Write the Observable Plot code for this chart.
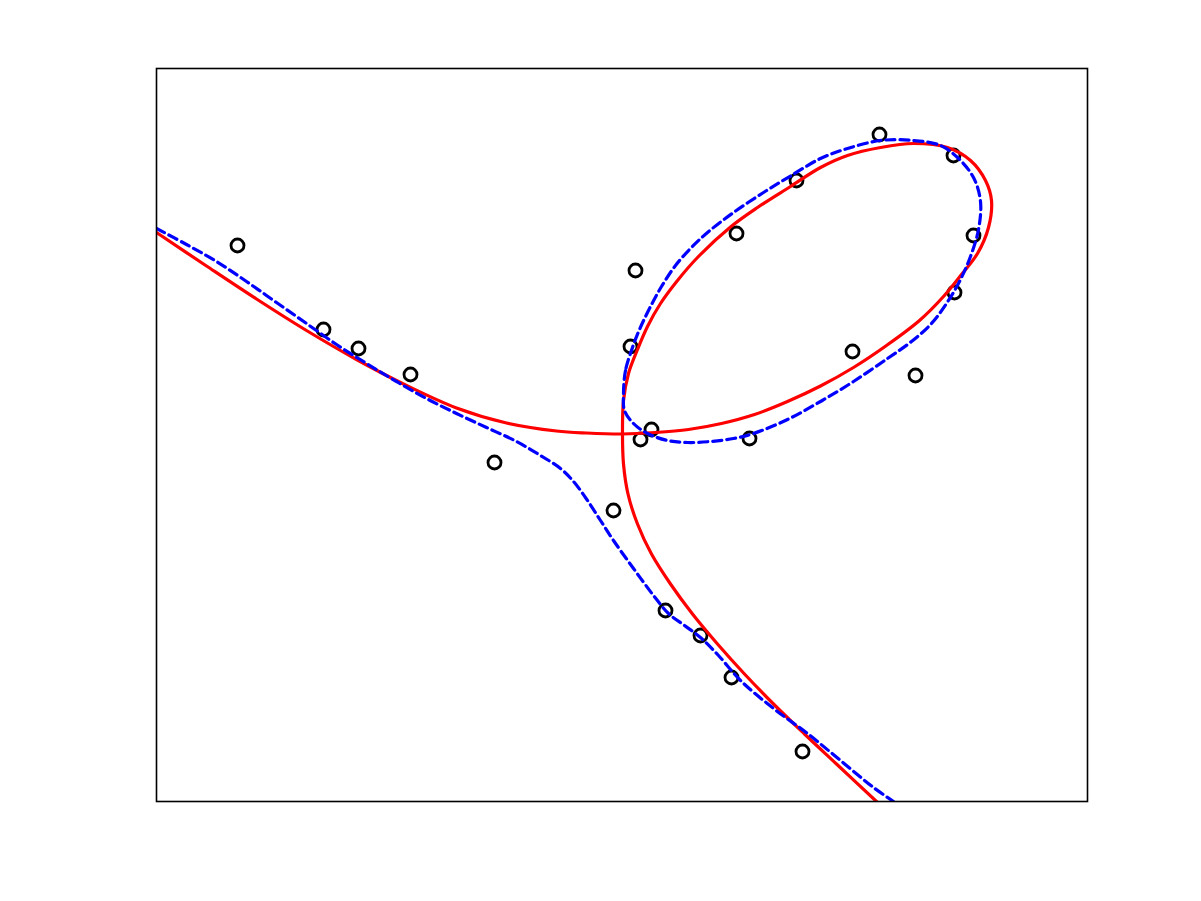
<!DOCTYPE html>
<html>
<head>
<meta charset="utf-8">
<script src="https://cdn.jsdelivr.net/npm/d3@7"></script>
<script src="https://cdn.jsdelivr.net/npm/@observablehq/plot@0.6"></script>
<style>
  html, body { margin: 0; padding: 0; background: #ffffff; }
  #chart { width: 1201px; height: 901px; }
</style>
</head>
<body>
<div id="chart"></div>
<script>
// Sample points (circles)
const pointX = [0.81, 1.67, 2.02, 2.54, 3.38, 4.57, 4.79, 4.74, 4.95, 4.84, 5.09, 5.44, 5.75, 6.46, 5.80, 6.40, 7.23, 7.97, 8.17, 7.98, 6.96, 7.59, 5.93];
const pointY = [5.56, 4.72, 4.53, 4.27, 3.39, 2.91, 5.31, 4.55, 3.72, 3.62, 1.91, 1.66, 1.24, 0.50, 5.68, 6.21, 6.67, 6.46, 5.66, 5.09, 4.50, 4.26, 3.63];

// Red solid curve (single self-crossing curve)
const redX = [0.00, 0.50, 1.00, 1.50, 2.00, 2.50, 3.00, 3.50, 4.00, 4.30, 4.66, 4.99, 5.32, 5.65, 5.98, 6.31, 6.64, 6.97, 7.30, 7.63, 7.87, 8.05, 8.21, 8.32, 8.35, 8.29, 8.14, 7.91, 7.57, 7.24, 6.91, 6.64, 6.34, 6.01, 5.74, 5.41, 5.21, 5.04, 4.91, 4.81, 4.72, 4.67, 4.66, 4.67, 4.715, 4.81, 4.95, 5.14, 5.36, 5.61, 5.88, 6.17, 6.48, 6.80, 7.20];
const redY = [5.69, 5.355, 5.025, 4.71, 4.42, 4.16, 3.935, 3.785, 3.705, 3.685, 3.675, 3.69, 3.72, 3.78, 3.87, 4.00, 4.155, 4.34, 4.56, 4.81, 5.05, 5.27, 5.48, 5.74, 6.01, 6.21, 6.41, 6.54, 6.58, 6.54, 6.46, 6.34, 6.15, 5.94, 5.745, 5.44, 5.21, 4.98, 4.75, 4.52, 4.28, 4.01, 3.675, 3.375, 3.075, 2.775, 2.475, 2.175, 1.875, 1.575, 1.275, 0.975, 0.675, 0.375, 0.00];

// Blue dashed curve: open branch
const blueOpenX = [0.00, 0.30, 0.60, 0.90, 1.20, 1.50, 1.80, 2.10, 2.40, 2.70, 3.00, 3.30, 3.60, 3.84, 4.04, 4.17, 4.31, 4.44, 4.57, 4.77, 4.97, 5.12, 5.28, 5.44, 5.62, 5.84, 6.17, 6.51, 6.84, 7.17, 7.37];
const blueOpenY = [5.73, 5.57, 5.40, 5.20, 4.99, 4.78, 4.57, 4.38, 4.20, 4.03, 3.88, 3.74, 3.60, 3.46, 3.33, 3.20, 3.01, 2.81, 2.61, 2.33, 2.06, 1.88, 1.76, 1.64, 1.46, 1.21, 0.93, 0.68, 0.41, 0.14, 0.00];

// Blue dashed curve: closed loop
const blueLoopX = [4.76, 4.69, 4.67, 4.68, 4.77, 4.91, 5.11, 5.31, 5.54, 5.77, 5.97, 6.31, 6.64, 6.97, 7.31, 7.55, 7.75, 7.90, 8.03, 8.14, 8.22, 8.24, 8.17, 8.01, 7.84, 7.57, 7.24, 6.91, 6.64, 6.34, 6.07, 5.77, 5.51, 5.34, 5.19, 5.05, 4.93, 4.83];
const blueLoopY = [4.54, 4.31, 4.08, 3.91, 3.78, 3.68, 3.61, 3.59, 3.60, 3.63, 3.68, 3.82, 4.00, 4.20, 4.43, 4.60, 4.78, 4.98, 5.20, 5.45, 5.72, 6.00, 6.24, 6.44, 6.56, 6.61, 6.61, 6.53, 6.43, 6.255, 6.09, 5.89, 5.69, 5.53, 5.36, 5.15, 4.93, 4.72];

const toRows = (xs, ys) => xs.map((x, i) => ({x, y: ys[i]}));
const points = toRows(pointX, pointY);
const red = toRows(redX, redY);
const blueOpen = toRows(blueOpenX, blueOpenY);
const blueLoop = toRows(blueLoopX, blueLoopY);

const chart = Plot.plot({
  width: 1201,
  height: 901,
  marginLeft: 156,
  marginRight: 114,
  marginTop: 68,
  marginBottom: 100,
  style: {background: "#ffffff"},
  x: {domain: [0, 9.31], axis: null},
  y: {domain: [0, 7.33], axis: null},
  marks: [
    Plot.dot(points, {x: "x", y: "y", r: 6.5, stroke: "#000000", strokeWidth: 2.8, fill: "none"}),
    Plot.line(red, {x: "x", y: "y", stroke: "#ff0000", strokeWidth: 3.2, curve: "catmull-rom", clip: true}),
    Plot.line(blueOpen, {x: "x", y: "y", stroke: "#0000ff", strokeWidth: 3.2, strokeDasharray: "9,5", curve: "catmull-rom", clip: true}),
    Plot.line(blueLoop, {x: "x", y: "y", stroke: "#0000ff", strokeWidth: 3.2, strokeDasharray: "9,5", curve: "catmull-rom-closed", clip: true}),
    Plot.frame({stroke: "#000000", strokeWidth: 1.6})
  ]
});
document.getElementById("chart").appendChild(chart);
</script>
</body>
</html>
